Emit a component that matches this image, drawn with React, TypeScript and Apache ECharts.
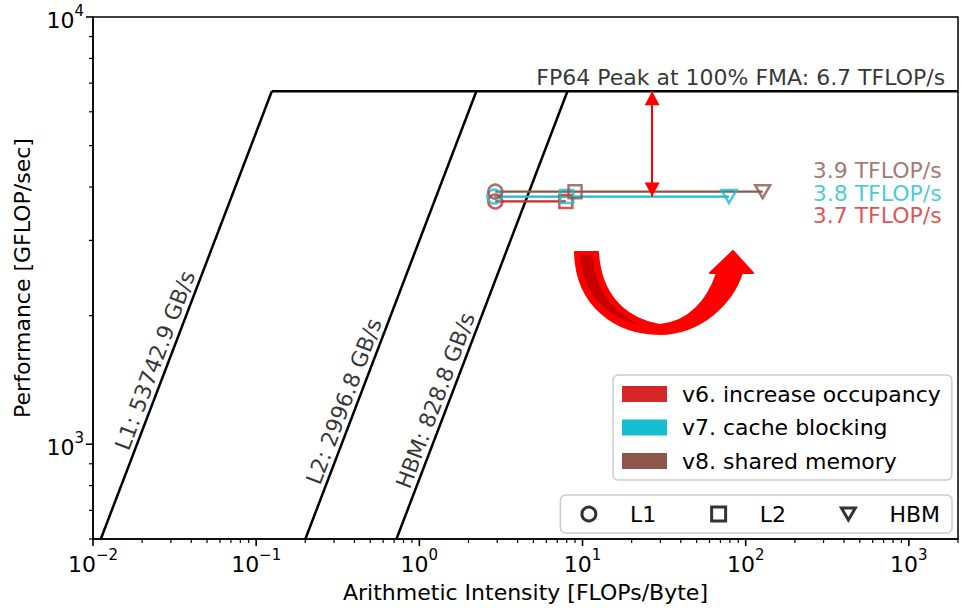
import React, { useEffect, useRef } from 'react';
import * as echarts from 'echarts';

// ---- axis extents ----
const X_MIN = 0.01;
const X_MAX = 2000;
const Y_MIN = 600;
const Y_MAX = 10000;
const X_DECADES = [-2, -1, 0, 1, 2, 3];
const Y_DECADES = [2, 3, 4];
const MINOR_MULT = [2, 3, 4, 5, 6, 7, 8, 9];

// ---- roofline ----
const PEAK = 6700;
const PEAK_LABEL = 'FP64 Peak at 100% FMA: 6.7 TFLOP/s';
const PEAK_LABEL_AI = 1680;
const ROOF_NAMES = ['L1', 'L2', 'HBM'];
const ROOF_BW = [53742.9, 2996.8, 828.8];
const ROOF_LABEL_AI = [0.0285, 0.41, 1.49];

// ---- kernels ----
const VERSIONS = ['v6. increase occupancy', 'v7. cache blocking', 'v8. shared memory'];
const VERSION_COLORS = ['#d62728', '#17becf', '#8c564b'];
const VERSION_PERF = [3700, 3800, 3900];
const VERSION_PERF_LABELS = ['3.7 TFLOP/s', '3.8 TFLOP/s', '3.9 TFLOP/s'];
const AI_L1 = [2.92, 2.88, 2.92];
const AI_L2 = [7.9, 8.0, 9.0];
const AI_HBM: (number | null)[] = [null, 79, 127];
const PERF_LABEL_AI = 1600;
const GAP_ARROW_AI = 26.7;

const FONT = 'DejaVu Sans';
const FS = 22;
const TRI_DOWN = 'path://M0,0 L20,0 L10,17.3 Z';
const SQUARE = 'path://M0,0 L10,0 L10,10 L0,10 Z';
const CIRCLE = 'circle';

const ARROW_PATH =
  'M575 252 L598 252 C600 290 620 318 660 325 C690 322 708 300 717 273 L710 273 L733 251 L753 273 L742 273 ' +
  'C732 303 702 333 660 334 C615 334 576 305 575 252 Z';
const ARROW_DARK_PATH = 'M580 255 L593 255 C594 285 610 312 642 326 C608 318 582 295 580 255 Z';

let registered = false;
function registerShapes() {
  if (registered) return;
  registered = true;
  echarts.graphic.registerShape('curvedArrow', echarts.graphic.extendPath(ARROW_PATH, {}) as any);
  echarts.graphic.registerShape('curvedArrowDark', echarts.graphic.extendPath(ARROW_DARK_PATH, {}) as any);
}

function expLabel(v: number): string {
  const e = Math.log10(v);
  const r = Math.round(e);
  if (Math.abs(e - r) > 1e-6) return '';
  const s = r < 0 ? '\u2212' + -r : String(r);
  return `{b|10}{s|${s}}`;
}

const labelRich = {
  b: { fontSize: FS, color: '#000', fontFamily: FONT, verticalAlign: 'bottom', lineHeight: 28 },
  s: { fontSize: 15, color: '#000', fontFamily: FONT, verticalAlign: 'top', lineHeight: 15 },
};

function buildOption(): any {
  const xTicks: number[][] = [];
  X_DECADES.forEach((e) => {
    const base = Math.pow(10, e);
    if (base >= X_MIN && base <= X_MAX) xTicks.push([base, Y_MIN, 1]);
    MINOR_MULT.forEach((m) => {
      const v = m * base;
      if (v > X_MIN && v <= X_MAX) xTicks.push([v, Y_MIN, 0]);
    });
  });
  const yTicks: number[][] = [];
  Y_DECADES.forEach((e) => {
    const base = Math.pow(10, e);
    if (base >= Y_MIN && base <= Y_MAX) yTicks.push([X_MIN, base, 1]);
    MINOR_MULT.forEach((m) => {
      const v = m * base;
      if (v >= Y_MIN && v < Y_MAX) yTicks.push([X_MIN, v, 0]);
    });
  });

  const series: any[] = [];

  // roof lines
  ROOF_BW.forEach((bw, i) => {
    series.push({
      name: 'roof ' + ROOF_NAMES[i],
      type: 'line',
      silent: true,
      symbol: 'none',
      data: [
        [Y_MIN / bw, Y_MIN],
        [PEAK / bw, PEAK],
      ],
      lineStyle: { color: '#000', width: 2.5 },
      z: 2,
    });
  });
  series.push({
    name: 'roof peak',
    type: 'line',
    silent: true,
    symbol: 'none',
    data: [
      [PEAK / ROOF_BW[0], PEAK],
      [X_MAX, PEAK],
    ],
    lineStyle: { color: '#000', width: 2.5 },
    z: 2,
  });

  // version lines
  VERSIONS.forEach((name, i) => {
    const pts: number[][] = [[AI_L1[i], VERSION_PERF[i]], [AI_L2[i], VERSION_PERF[i]]];
    if (AI_HBM[i] != null) pts.push([AI_HBM[i] as number, VERSION_PERF[i]]);
    pts.sort((a, b) => a[0] - b[0]);
    series.push({
      name,
      type: 'line',
      silent: true,
      symbol: 'none',
      data: [pts[0], pts[pts.length - 1]],
      lineStyle: { color: VERSION_COLORS[i], width: 2.2 },
      itemStyle: { color: VERSION_COLORS[i] },
      z: 3,
    });
  });

  // markers per memory level
  const levels: { name: string; ai: (number | null)[]; symbol: string; size: number }[] = [
    { name: 'L1', ai: AI_L1, symbol: 'circle', size: 14 },
    { name: 'L2', ai: AI_L2, symbol: 'rect', size: 13 },
    { name: 'HBM', ai: AI_HBM, symbol: TRI_DOWN, size: 15 },
  ];
  levels.forEach((lv) => {
    const data: any[] = [];
    VERSIONS.forEach((_, i) => {
      if (lv.ai[i] == null) return;
      data.push({
        value: [lv.ai[i], VERSION_PERF[i]],
        itemStyle: { borderColor: VERSION_COLORS[i] },
      });
    });
    series.push({
      name: lv.name,
      type: 'scatter',
      silent: true,
      symbol: lv.symbol,
      symbolSize: lv.size,
      symbolKeepAspect: true,
      itemStyle: { color: 'rgba(0,0,0,0)', borderWidth: 2.5, borderColor: '#000' },
      data,
      z: 4,
    });
  });

  // annotations (texts + gap arrow)
  const annot: any[] = [];
  annot.push({
    value: [PEAK_LABEL_AI, PEAK],
    label: { show: true, formatter: PEAK_LABEL, position: 'left', distance: 0, offset: [0, -14], color: '#000' },
  });
  const perfOffsets = [13.8, -3.5, -21];
  VERSIONS.forEach((_, i) => {
    annot.push({
      value: [PERF_LABEL_AI, VERSION_PERF[i]],
      label: {
        show: true,
        formatter: VERSION_PERF_LABELS[i],
        position: 'left',
        distance: 0,
        lineHeight: 17,
        offset: [0, perfOffsets[i]],
        color: VERSION_COLORS[i],
      },
    });
  });
  ROOF_BW.forEach((bw, i) => {
    annot.push({
      value: [ROOF_LABEL_AI[i], ROOF_LABEL_AI[i] * bw],
      label: {
        show: true,
        formatter: `${ROOF_NAMES[i]}: ${bw} GB/s`,
        position: 'inside',
        rotate: 69.3,
        offset: [0, -13],
        color: '#000',
      },
    });
  });
  series.push({
    name: 'annotations',
    type: 'scatter',
    silent: true,
    symbolSize: 1,
    itemStyle: { color: 'rgba(0,0,0,0)' },
    label: { fontSize: FS, fontFamily: FONT },
    data: annot,
    z: 5,
    markLine: {
      silent: true,
      symbol: ['triangle', 'triangle'],
      symbolSize: [15, 14],
      symbolOffset: [
        [0, 7],
        [0, 7],
      ],
      lineStyle: { color: '#ff0000', width: 2, type: 'solid' },
      label: { show: false },
      emphasis: { disabled: true },
      data: [[{ coord: [GAP_ARROW_AI, VERSION_PERF[1]] }, { coord: [GAP_ARROW_AI, PEAK] }]],
    },
  });

  // ticks
  series.push({
    name: 'xticks',
    type: 'custom',
    silent: true,
    clip: false,
    data: xTicks,
    renderItem: (_p: any, api: any) => {
      const pt = api.coord([api.value(0), api.value(1)]);
      const major = api.value(2) === 1;
      const len = major ? 7 : 4;
      return {
        type: 'line',
        shape: { x1: pt[0], y1: pt[1], x2: pt[0], y2: pt[1] + len },
        style: { stroke: '#000', lineWidth: major ? 1.6 : 1.2 },
      };
    },
    z: 6,
  });
  series.push({
    name: 'yticks',
    type: 'custom',
    silent: true,
    clip: false,
    data: yTicks,
    renderItem: (_p: any, api: any) => {
      const pt = api.coord([api.value(0), api.value(1)]);
      const major = api.value(2) === 1;
      const len = major ? 7 : 4;
      return {
        type: 'line',
        shape: { x1: pt[0] - len, y1: pt[1], x2: pt[0], y2: pt[1] },
        style: { stroke: '#000', lineWidth: major ? 1.6 : 1.2 },
      };
    },
    z: 6,
  });

  const markerLegendStyle = { color: '#fff', borderColor: '#000', borderWidth: 3 };

  return {
    animation: false,
    backgroundColor: '#fff',
    textStyle: { fontFamily: FONT },
    grid: {
      left: 93,
      top: 17,
      width: 866,
      height: 528,
      show: true,
      borderColor: '#000',
      borderWidth: 1.5,
      backgroundColor: 'transparent',
    },
    xAxis: {
      type: 'log',
      logBase: 10,
      min: X_MIN,
      max: X_MAX,
      name: 'Arithmetic Intensity [FLOPs/Byte]',
      nameLocation: 'middle',
      nameGap: 42,
      nameTextStyle: { fontSize: FS, color: '#000', fontFamily: FONT },
      axisLine: { onZero: false, lineStyle: { color: '#000', width: 1.5 } },
      axisTick: { show: false },
      minorTick: { show: false },
      splitLine: { show: false },
      axisLabel: { formatter: expLabel, rich: labelRich, margin: 8, color: '#000' },
    },
    yAxis: {
      type: 'log',
      logBase: 10,
      min: Y_MIN,
      max: Y_MAX,
      name: 'Performance [GFLOP/sec]',
      nameLocation: 'middle',
      nameRotate: 90,
      nameGap: 60,
      nameTextStyle: { fontSize: FS, color: '#000', fontFamily: FONT },
      axisLine: { onZero: false, lineStyle: { color: '#000', width: 1.5 } },
      axisTick: { show: false },
      minorTick: { show: false },
      splitLine: { show: false },
      axisLabel: { formatter: expLabel, rich: labelRich, margin: 9, color: '#000' },
    },
    legend: [
      {
        orient: 'vertical',
        left: 613,
        top: 375,
        selectedMode: false,
        data: VERSIONS.map((n, i) => ({ name: n, icon: 'rect', itemStyle: { color: VERSION_COLORS[i] } })),
        itemWidth: 45,
        itemHeight: 16,
        itemGap: 9.5,
        padding: [7, 11, 7, 9],
        borderColor: '#cccccc',
        borderWidth: 1.5,
        borderRadius: 5,
        backgroundColor: '#ffffff',
        textStyle: { fontSize: FS, color: '#000', fontFamily: FONT, lineHeight: 24, padding: [0, 0, 0, 10] },
      },
      {
        orient: 'horizontal',
        right: 9,
        top: 495,
        selectedMode: false,
        data: [
          { name: 'L1', icon: CIRCLE, itemStyle: markerLegendStyle },
          { name: 'L2', icon: SQUARE, itemStyle: markerLegendStyle },
          { name: 'HBM', icon: TRI_DOWN, itemStyle: markerLegendStyle },
        ],
        itemWidth: 14,
        itemHeight: 14,
        itemGap: 54,
        symbolKeepAspect: true,
        padding: [7, 12, 7, 20],
        borderColor: '#cccccc',
        borderWidth: 1.5,
        borderRadius: 5,
        backgroundColor: '#ffffff',
        textStyle: { fontSize: FS, color: '#000', fontFamily: FONT, lineHeight: 24, padding: [0, 0, 0, 29] },
      },
    ],
    graphic: [
      {
        type: 'curvedArrow',
        x: 0,
        y: 0,
        silent: true,
        z: 10,
        style: { fill: '#ff0000', stroke: '#ff0000', lineWidth: 2, lineJoin: 'round' },
      },
      {
        type: 'curvedArrowDark',
        x: 0,
        y: 0,
        silent: true,
        z: 11,
        style: { fill: '#c80000' },
      },
    ],
    series,
  };
}

export default function App() {
  const ref = useRef<HTMLDivElement>(null);
  useEffect(() => {
    if (!ref.current) return;
    registerShapes();
    const chart = echarts.init(ref.current, undefined, { renderer: 'svg' });
    chart.setOption(buildOption());
    return () => chart.dispose();
  }, []);
  return (
    <div
      ref={ref}
      style={{ position: 'absolute', left: 0, top: 0, width: 961, height: 608, background: '#fff' }}
    />
  );
}
